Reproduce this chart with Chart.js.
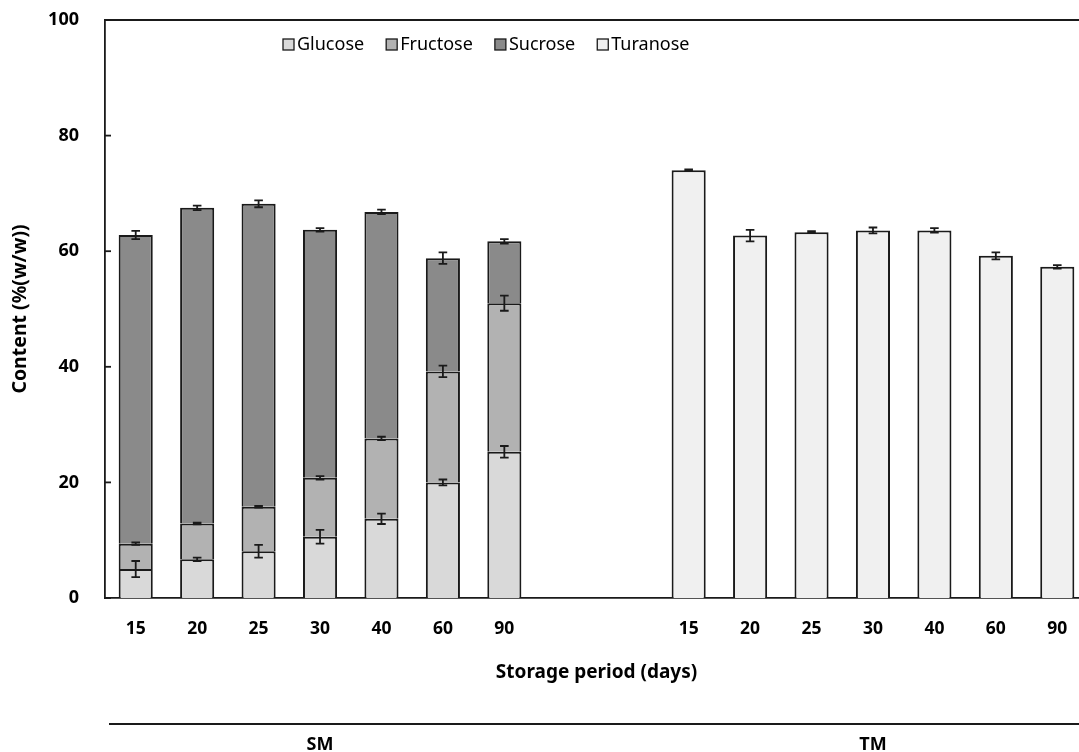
<!DOCTYPE html>
<html>
<head>
<meta charset="utf-8">
<script src="https://cdn.jsdelivr.net/npm/chart.js@4/dist/chart.umd.min.js"></script>
<style>
  html, body { margin: 0; padding: 0; background: #fff; overflow: hidden; }
  #wrap { width: 1088px; height: 752px; }
</style>
</head>
<body>
<div id="wrap"><canvas id="sugarChart"></canvas></div>
<script>
// Category labels (two empty slots separate SM and TM)
const days = ['15', '20', '25', '30', '40', '60', '90', '', '', '15', '20', '25', '30', '40', '60', '90'];
const groupLabels = ['SM', 'TM'];
const groupCenters = [3, 12]; // index of the middle category of each group
const yTicks = [0, 20, 40, 60, 80, 100];

// Segment contents (%(w/w)); null where a sugar is absent
const glucose   = [5.0, 6.7, 8.1, 10.6, 13.7, 20.0, 25.3, null, null, null, null, null, null, null, null, null];
const fructose  = [4.4, 6.2, 7.7, 10.2, 13.9, 19.2, 25.7, null, null, null, null, null, null, null, null, null];
const sucrose   = [53.4, 54.6, 52.4, 42.9, 39.2, 19.6, 10.7, null, null, null, null, null, null, null, null, null];
const turanose  = [null, null, null, null, null, null, null, null, null, 74.0, 62.7, 63.3, 63.6, 63.6, 59.2, 57.3];

// Standard deviations
const glucoseErr  = [1.4, 0.3, 1.1, 1.2, 0.9, 0.5, 1.0, null, null, null, null, null, null, null, null, null];
const fructoseErr = [0.2, 0.1, 0.1, 0.3, 0.3, 1.0, 1.3, null, null, null, null, null, null, null, null, null];
const sucroseErr  = [0.7, 0.4, 0.6, 0.3, 0.4, 1.0, 0.4, null, null, null, null, null, null, null, null, null];
const turanoseErr = [null, null, null, null, null, null, null, null, null, 0.15, 1.0, 0.1, 0.5, 0.4, 0.6, 0.3];

const FONT = "'Noto Sans', 'Open Sans', sans-serif";
const INK = '#1a1a1a';

function makeSet(label, data, err, color) {
    return {
        label: label,
        data: data,
        errors: err,
        backgroundColor: color,
        borderColor: INK,
        borderWidth: 2,
        borderSkipped: 'start',
        barPercentage: 0.555,
        categoryPercentage: 1.0,
        stack: 'sugar'
    };
}

// Error bars, drawn on top of each segment
const errorBars = {
    id: 'errorBars',
    afterDatasetsDraw(chart) {
        const ctx = chart.ctx;
        const y = chart.scales.y;
        const unit = y.getPixelForValue(0) - y.getPixelForValue(1);
        ctx.save();
        ctx.strokeStyle = INK;
        ctx.lineWidth = 1.8;
        chart.data.datasets.forEach((ds, i) => {
            const meta = chart.getDatasetMeta(i);
            meta.data.forEach((bar, j) => {
                const e = ds.errors[j];
                if (ds.data[j] == null || e == null) return;
                const d = Math.max(e * unit, 0.9);
                const cap = 4.3;
                ctx.beginPath();
                ctx.moveTo(bar.x, bar.y - d);
                ctx.lineTo(bar.x, bar.y + d);
                ctx.moveTo(bar.x - cap, bar.y - d);
                ctx.lineTo(bar.x + cap, bar.y - d);
                ctx.moveTo(bar.x - cap, bar.y + d);
                ctx.lineTo(bar.x + cap, bar.y + d);
                ctx.stroke();
            });
        });
        ctx.restore();
    }
};

// Frame, inward y ticks, legend inside the plot, and SM / TM group labels
const decorations = {
    id: 'decorations',
    afterDraw(chart) {
        const ctx = chart.ctx;
        const area = chart.chartArea;
        const x = chart.scales.x;
        const y = chart.scales.y;
        ctx.save();
        ctx.strokeStyle = INK;
        ctx.lineWidth = 1.8;
        // top frame line
        ctx.beginPath();
        ctx.moveTo(area.left, area.top);
        ctx.lineTo(chart.width, area.top);
        ctx.stroke();
        // inward tick marks
        yTicks.forEach(v => {
            const py = y.getPixelForValue(v);
            ctx.beginPath();
            ctx.moveTo(area.left, py);
            ctx.lineTo(area.left + 6, py);
            ctx.stroke();
        });

        // legend
        ctx.font = '18px ' + FONT;
        ctx.textBaseline = 'middle';
        let lx = 283;
        const ly = 44;
        chart.data.datasets.forEach(ds => {
            ctx.fillStyle = ds.backgroundColor;
            ctx.fillRect(lx, ly - 5, 11, 11);
            ctx.lineWidth = 1.3;
            ctx.strokeRect(lx, ly - 5, 11, 11);
            ctx.fillStyle = '#000';
            ctx.textAlign = 'left';
            ctx.fillText(ds.label, lx + 14, ly + 1);
            lx += 14 + ctx.measureText(ds.label).width + 22;
        });

        // group separator line and labels
        ctx.lineWidth = 1.8;
        ctx.beginPath();
        ctx.moveTo(109, 724);
        ctx.lineTo(chart.width, 724);
        ctx.stroke();
        ctx.font = 'bold 18px ' + FONT;
        ctx.textAlign = 'center';
        ctx.fillStyle = '#000';
        groupLabels.forEach((g, k) => {
            ctx.fillText(g, x.getPixelForValue(groupCenters[k]), 745);
        });
        ctx.restore();
    }
};

const ctx = document.getElementById('sugarChart').getContext('2d');
new Chart(ctx, {
    type: 'bar',
    data: {
        labels: days,
        datasets: [
            makeSet('Glucose', glucose, glucoseErr, '#d9d9d9'),
            makeSet('Fructose', fructose, fructoseErr, '#b2b2b2'),
            makeSet('Sucrose', sucrose, sucroseErr, '#8a8a8a'),
            makeSet('Turanose', turanose, turanoseErr, '#f0f0f0')
        ]
    },
    options: {
        responsive: true,
        maintainAspectRatio: false,
        animation: false,
        layout: { padding: { top: 20, left: 0, right: 0, bottom: 68 } },
        plugins: {
            legend: { display: false },
            tooltip: { enabled: false }
        },
        scales: {
            x: {
                stacked: true,
                grid: { display: false, drawTicks: false },
                border: { color: INK, width: 1.8 },
                ticks: { color: '#000', padding: 21, font: { family: FONT, size: 17.5, weight: 'bold' } },
                title: {
                    display: true,
                    text: 'Storage period (days)',
                    color: '#000',
                    font: { family: FONT, size: 19, weight: 'bold' },
                    padding: { top: 17, bottom: 0 }
                },
                afterFit(scale) {
                    scale.height = 86;
                    scale.paddingLeft = 0;
                    scale.paddingRight = 0;
                }
            },
            y: {
                stacked: true,
                min: 0,
                max: 100,
                grid: { display: false, drawTicks: false },
                border: { color: INK, width: 1.8 },
                ticks: { stepSize: 20, color: '#000', padding: 26, font: { family: FONT, size: 18, weight: 'bold' } },
                title: {
                    display: true,
                    text: 'Content (%(w/w))',
                    color: '#000',
                    font: { family: FONT, size: 19.5, weight: 'bold' },
                    padding: { top: 9, bottom: 0 }
                },
                afterFit(scale) {
                    scale.width = 105;
                    scale.paddingTop = 0;
                    scale.paddingBottom = 0;
                }
            }
        }
    },
    plugins: [errorBars, decorations]
});
</script>
</body>
</html>
